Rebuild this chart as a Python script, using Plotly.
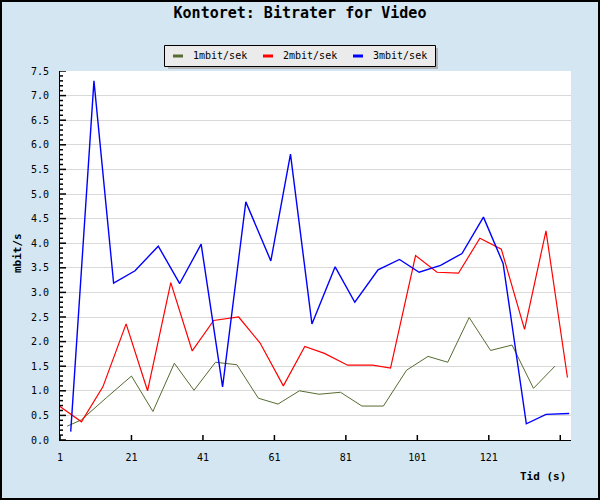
import plotly.graph_objects as go

# ---- data ----
series_names = ["1mbit/sek", "2mbit/sek", "3mbit/sek"]

t_1mbit = [3, 7, 14, 21, 27, 33, 38.5, 44.5, 50.5, 56.5, 62, 68, 73.5, 79.5, 85.5,
           91.5, 98, 104, 109.5, 115.5, 121.5, 127.5, 133.5, 139.5]
v_1mbit = [0.28, 0.41, 0.86, 1.30, 0.58, 1.56, 1.01, 1.58, 1.53, 0.85, 0.73, 1.00,
           0.93, 0.97, 0.69, 0.69, 1.42, 1.70, 1.58, 2.49, 1.82, 1.93, 1.05, 1.50]

t_2mbit = [1, 7, 13, 19.5, 25.5, 32, 38, 44, 51, 57, 63.5, 69.5, 75, 81.5, 88.5,
           93.5, 100.5, 106.5, 112.5, 118.5, 124.5, 131, 137, 143]
v_2mbit = [0.68, 0.37, 1.08, 2.36, 1.00, 3.20, 1.81, 2.43, 2.50, 1.97, 1.10, 1.90,
           1.76, 1.52, 1.52, 1.46, 3.75, 3.41, 3.39, 4.10, 3.88, 2.25, 4.25, 1.27]

t_3mbit = [4, 10.5, 16, 22, 28.5, 34.5, 40.5, 46.5, 53, 60, 65.5, 71.5, 78, 83.5,
           90, 96, 101.5, 107.5, 113.5, 119.5, 125, 131.5, 137, 143.5]
v_3mbit = [0.17, 7.30, 3.19, 3.44, 3.94, 3.18, 3.98, 1.08, 4.84, 3.64, 5.81, 2.36,
           3.52, 2.80, 3.46, 3.67, 3.41, 3.55, 3.79, 4.53, 3.59, 0.33, 0.52, 0.54]

x_tickvals = [1, 21, 41, 61, 81, 101, 121, 141]
x_ticktext = ["1", "21", "41", "61", "81", "101", "121", ""]
y_major = [i * 0.5 for i in range(16)]          # 0.0 .. 7.5
y_minor = [i * 0.1 for i in range(76)]          # 0.0 .. 7.5

colors = ["#556b2f", "#ff0000", "#0000ff"]
widths = [1.0, 1.2, 1.4]

MONO = "DejaVu Sans Mono"

L, R, T, B = 60, 29, 71, 60
W, H = 600, 500
pw, ph = W - L - R, H - T - B


def px(x):
    return (x - L) / pw


def py(y):
    return (H - B - y) / ph


fig = go.Figure()
for name, tx, vy, c, w in zip(series_names, [t_1mbit, t_2mbit, t_3mbit],
                              [v_1mbit, v_2mbit, v_3mbit], colors, widths):
    fig.add_trace(go.Scatter(x=tx, y=vy, mode="lines", name=name,
                             showlegend=False, line=dict(color=c, width=w)))

fig.update_layout(
    width=W, height=H,
    margin=dict(l=L, r=R, t=T, b=B, pad=0),
    paper_bgcolor="#d3e6f1",
    plot_bgcolor="#ffffff",
    font=dict(family=MONO, size=10, color="#000000"),
    title=dict(text="<b>Kontoret: Bitrater for Video</b>", x=0.5, xref="container",
               xanchor="center", y=1 - 13 / H, yref="container", yanchor="middle",
               font=dict(family=MONO, size=15, color="#000000")),
    showlegend=False,
    xaxis=dict(range=[1, 144], tickvals=x_tickvals, ticktext=x_ticktext,
               ticks="", showline=True, linecolor="#000000", linewidth=1, mirror=False,
               showgrid=False, zeroline=False, ticklabelstandoff=8,
               tickfont=dict(family=MONO, size=10)),
    yaxis=dict(range=[0, 7.5], tickvals=y_major, tickformat=".1f",
               ticks="", showline=True, linecolor="#000000", linewidth=1, mirror=False,
               showgrid=True, gridcolor="#d9d9d9", gridwidth=1, zeroline=False,
               ticklabelstandoff=8, tickfont=dict(family=MONO, size=10)),
)

# inside tick marks (drawn as shapes at the axis tick values)
tick_line = dict(color="#000000", width=1.5)
for v in y_minor:
    major = abs(round(v / 0.5) * 0.5 - v) < 1e-6
    fig.add_shape(type="line", xref="paper", yref="y", x0=0, x1=(6 if major else 3) / pw,
                  y0=v, y1=v, line=tick_line, layer="above")
for v in x_tickvals:
    fig.add_shape(type="line", xref="x", yref="paper", x0=v, x1=v, y0=0, y1=5 / ph,
                  line=tick_line, layer="above")

# axis titles
fig.add_annotation(text="<b>Tid (s)</b>", xref="paper", yref="paper", x=px(568), y=py(476),
                   xanchor="right", yanchor="middle", showarrow=False,
                   font=dict(family=MONO, size=11))
fig.add_annotation(text="<b>mbit/s</b>", xref="paper", yref="paper", x=px(17), y=py(253),
                   xanchor="center", yanchor="middle", textangle=-90, showarrow=False,
                   font=dict(family=MONO, size=11))

# legend (shadow, box, entries)
fig.add_shape(type="rect", xref="paper", yref="paper", x0=px(168), x1=px(438),
              y0=py(69), y1=py(48), fillcolor="#b4b4b4", line=dict(width=0), layer="above")
fig.add_shape(type="rect", xref="paper", yref="paper", x0=px(164.5), x1=px(435.5),
              y0=py(66.5), y1=py(45.5), fillcolor="#ebebeb",
              line=dict(color="#000000", width=1), layer="above")
leg_x = [173, 263, 353]
for name, c, lx in zip(series_names, colors, leg_x):
    fig.add_shape(type="line", xref="paper", yref="paper", x0=px(lx), x1=px(lx + 10),
                  y0=py(56), y1=py(56), line=dict(color=c, width=3), layer="above")
    fig.add_annotation(text=name, xref="paper", yref="paper", x=px(lx + 18), y=py(56),
                       xanchor="left", yanchor="middle", showarrow=False,
                       font=dict(family=MONO, size=10, color="#000000"))

# outer frame
fig.add_shape(type="rect", xref="paper", yref="paper", x0=px(1), x1=px(599),
              y0=py(499), y1=py(1), line=dict(color="#000000", width=2),
              fillcolor="rgba(0,0,0,0)", layer="above")

fig.write_html("out.html", config={"displayModeBar": False},
               post_script="document.body.style.margin='0px';")
